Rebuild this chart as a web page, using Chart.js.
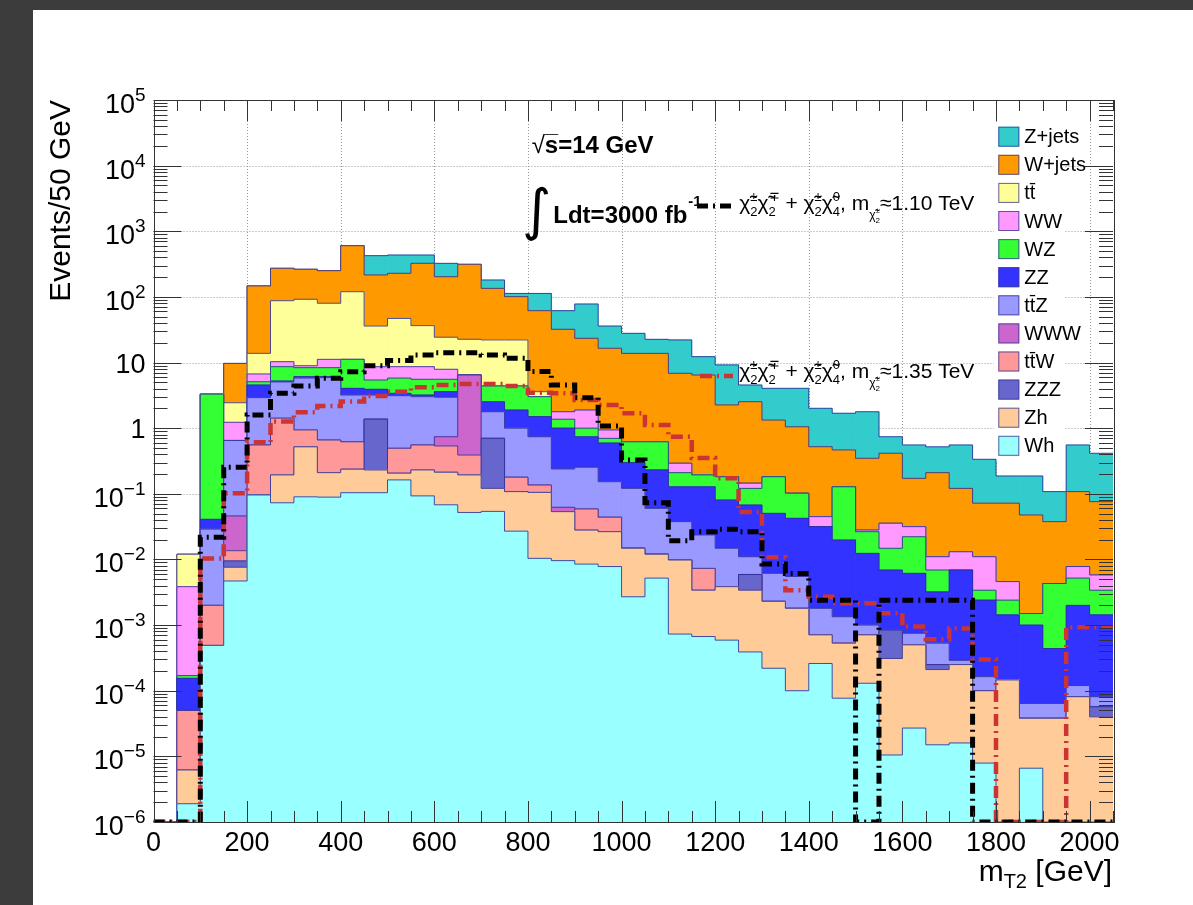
<!DOCTYPE html>
<html>
<head>
<meta charset="utf-8">
<script src="https://cdn.jsdelivr.net/npm/chart.js@4.4.0/dist/chart.umd.min.js"></script>
<style>
  html, body { margin: 0; padding: 0; background: #3c3c3c; }
  #frame { position: absolute; left: 33px; top: 10px; width: 1160px; height: 895px; background: #fff; }
  canvas { display: block; }
</style>
</head>
<body>
<div id="frame"><canvas id="mt2" width="1160" height="895"></canvas></div>
<script>
// lower edge of each 50 GeV bin
const binLow = [0, 50, 100, 150, 200, 250, 300, 350, 400, 450, 500, 550, 600, 650, 700, 750, 800, 850, 900, 950,
  1000, 1050, 1100, 1150, 1200, 1250, 1300, 1350, 1400, 1450, 1500, 1550, 1600, 1650, 1700, 1750, 1800, 1850, 1900, 1950, 2000];

// stacked heights (THStack style): each array is the top of that process's band, bottom of the stack first
const stackWh = [0, 1.9e-6, 4.9e-4, 4.7e-3, 0.096, 0.073, 0.09, 0.089, 0.104, 0.104, 0.163, 0.093, 0.068, 0.052, 0.054, 0.027, 0.0104, 0.0096, 0.0085, 0.0078,
  0.0027, 0.0052, 7.3e-4, 6.7e-4, 5.9e-4, 3.9e-4, 2.2e-4, 1.0e-4, 2.6e-4, 7.7e-5, 1.3e-4, 1.05e-5, 2.7e-5, 1.5e-5, 1.6e-5, 7.9e-6, 0, 6.6e-6, 0, 0, 0];
const stackZh = [0, 6.2e-6, 4.9e-4, 7.6e-3, 0.096, 0.194, 0.52, 0.21, 0.237, 0.231, 0.206, 0.231, 0.213, 0.194, 0.121, 0.108, 0.105, 0.0535, 0.028, 0.0265,
  0.0148, 0.012, 9.8e-3, 3.4e-3, 3.85e-3, 3.4e-3, 2.3e-3, 1.8e-3, 7.1e-4, 5.3e-4, 7.1e-4, 3.1e-4, 5.0e-4, 2.1e-4, 2.5e-4, 1.0e-4, 1.46e-4, 3.8e-5, 3.8e-5, 8.1e-5, 4.0e-5];
const stackZZZ = [0, 6.2e-6, 4.9e-4, 9.5e-3, 0.096, 0.194, 0.52, 0.21, 0.237, 1.37, 0.206, 0.231, 0.213, 0.194, 0.70, 0.108, 0.105, 0.0535, 0.028, 0.0265,
  0.0148, 0.012, 9.8e-3, 3.4e-3, 3.85e-3, 5.9e-3, 2.3e-3, 1.8e-3, 7.1e-4, 5.3e-4, 7.1e-4, 8.4e-4, 5.0e-4, 2.5e-4, 2.5e-4, 1.0e-4, 1.46e-4, 3.8e-5, 3.8e-5, 8.1e-5, 5.7e-5];
const stackTtW = [0, 5.0e-5, 2.0e-3, 0.0136, 0.555, 1.42, 0.94, 0.66, 0.62, 1.37, 0.494, 0.555, 0.536, 0.39, 0.70, 0.179, 0.136, 0.0535, 0.0588, 0.044,
  0.0148, 0.012, 9.8e-3, 7.3e-3, 3.85e-3, 5.9e-3, 2.3e-3, 1.8e-3, 7.1e-4, 5.3e-4, 7.1e-4, 8.4e-4, 5.0e-4, 2.5e-4, 2.5e-4, 1.0e-4, 1.46e-4, 3.8e-5, 3.8e-5, 8.1e-5, 5.7e-5];
const stackWWW = [0, 5.0e-5, 2.0e-3, 0.046, 0.555, 1.42, 0.94, 0.66, 0.62, 1.37, 0.494, 0.555, 0.741, 6.46, 0.70, 0.179, 0.136, 0.0624, 0.0588, 0.044,
  0.0148, 0.012, 9.8e-3, 7.3e-3, 3.85e-3, 5.9e-3, 2.3e-3, 1.8e-3, 7.1e-4, 5.3e-4, 7.1e-4, 8.4e-4, 5.0e-4, 2.5e-4, 2.5e-4, 1.0e-4, 1.46e-4, 3.8e-5, 3.8e-5, 8.1e-5, 5.7e-5];
const stackTtZ = [0, 5.0e-5, 0.029, 0.65, 2.92, 5.06, 5.8, 5.9, 3.2, 3.2, 3.13, 3.02, 2.96, 6.46, 1.78, 1.0, 0.74, 0.239, 0.254, 0.153,
  0.121, 0.060, 0.0377, 0.0236, 0.0148, 0.011, 6.15e-3, 5.5e-3, 1.8e-3, 1.34e-3, 1.0e-3, 8.4e-4, 7.5e-4, 5.3e-4, 2.9e-4, 1.64e-4, 1.46e-4, 6.4e-5, 6.4e-5, 1.2e-4, 8.1e-5];
const stackZZ = [0, 1.55e-4, 0.041, 0.65, 4.55, 5.24, 6.1, 6.1, 4.05, 3.92, 3.4, 3.2, 3.6, 6.46, 2.53, 1.89, 1.5, 1.0, 0.74, 0.595,
  0.298, 0.231, 0.128, 0.128, 0.0805, 0.0676, 0.0505, 0.0424, 0.0316, 0.0198, 0.0124, 6.9e-3, 6.15e-3, 3.2e-3, 6.9e-3, 2.4e-3, 1.43e-3, 1.0e-3, 4.4e-4, 2.0e-3, 1.43e-3];
const stackWZ = [0, 1.7e-4, 3.3, 0.65, 5.1, 8.65, 8.35, 8.35, 11.2, 5.42, 5.8, 5.56, 5.56, 6.46, 4.4, 4.4, 3.02, 1.37, 1.0, 0.70,
  0.62, 0.62, 0.21, 0.194, 0.182, 0.121, 0.182, 0.102, 0.0316, 0.128, 0.0265, 0.0148, 0.0222, 6.9e-3, 6.9e-3, 3.4e-3, 2.4e-3, 1.5e-3, 4.3e-3, 5.2e-3, 3.4e-3];
const stackWW = [0, 3.85e-3, 3.3, 1.23, 6.7, 10.3, 8.95, 11.2, 11.2, 8.65, 8.65, 8.65, 7.9, 6.46, 4.4, 4.4, 3.02, 1.78, 1.89, 0.94,
  0.62, 0.62, 0.292, 0.194, 0.182, 0.145, 0.182, 0.102, 0.0449, 0.128, 0.0281, 0.0356, 0.0316, 0.011, 0.0131, 0.011, 4.6e-3, 1.5e-3, 4.3e-3, 7.8e-3, 5.8e-3];
const stackTt = [0, 0.012, 3.3, 2.44, 13.8, 87.5, 92, 80, 120, 36, 47, 36.5, 24.3, 22.6, 22.1, 22.1, 3.6, 1.78, 1.89, 0.94,
  0.62, 0.62, 0.292, 0.194, 0.182, 0.145, 0.182, 0.102, 0.0449, 0.128, 0.0281, 0.0356, 0.0316, 0.011, 0.0131, 0.011, 4.6e-3, 1.5e-3, 4.3e-3, 7.8e-3, 5.8e-3];
const stackWjets = [0, 0.012, 3.3, 9.7, 147, 273, 264, 251, 603, 216, 229, 325, 203, 314, 135, 101, 61.7, 32.1, 23.4, 16.5,
  13.8, 13.8, 6.86, 6.46, 2.26, 2.53, 1.33, 1.05, 0.522, 0.466, 0.348, 0.415, 0.172, 0.21, 0.121, 0.072, 0.072, 0.0476, 0.0377, 0.108, 0.076];
const stackZjets = [0, 0.012, 3.3, 9.7, 147, 273, 264, 251, 603, 425, 435, 435, 325, 314, 181, 113, 113, 61.7, 78, 36,
  27.9, 22.6, 22.1, 12.3, 9.2, 4.55, 4.05, 4.05, 2.01, 1.69, 1.78, 0.741, 0.555, 0.52, 0.555, 0.336, 0.187, 0.187, 0.108, 0.555, 0.415];

const processes = ['Wh', 'Zh', 'ZZZ', 'tt\u0304W', 'WWW', 'tt\u0304Z', 'ZZ', 'WZ', 'WW', 'tt\u0304', 'W+jets', 'Z+jets'];
const fills = ['#99ffff', '#ffcc99', '#6666cc', '#ff9999', '#cc66cc', '#9999ff', '#3333ff', '#33ff33', '#ff99ff', '#ffff99', '#ff9900', '#33cccc'];
const stackTops = [stackWh, stackZh, stackZZZ, stackTtW, stackWWW, stackTtZ, stackZZ, stackWZ, stackWW, stackTt, stackWjets, stackZjets];

// signal points, m(chi2+-) = 1.10 TeV (black) and 1.35 TeV (red)
const signal110 = [0, 0, 0.0218, 0.254, 1.59, 3.4, 4.4, 5.75, 7.26, 8.9, 10.7, 13.0, 14.1, 14.1, 13.0, 11.6, 7.3, 4.55, 2.92, 1.08,
  0.328, 0.073, 0.0193, 0.0265, 0.0288, 0.0265, 8.5e-3, 6.1e-3, 2.4e-3, 2.4e-3, 0, 2.4e-3, 2.4e-3, 2.4e-3, 2.4e-3, 0, 0, 0, 0, 0, 0];
const signal135 = [0, 0, 0.0103, 0.102, 0.61, 1.26, 1.75, 2.18, 2.54, 3.09, 3.6, 4.2, 4.55, 4.7, 4.7, 4.4, 3.47, 3.4, 2.69, 2.25,
  1.69, 1.12, 0.74, 0.35, 0.173, 0.053, 0.0108, 3.4e-3, 2.7e-3, 2.15e-3, 2.15e-3, 1.52e-3, 9.5e-4, 6.1e-4, 8.9e-4, 3.0e-4, 0, 0, 0, 9.3e-4, 9.3e-4];

const xTickValues = [0, 200, 400, 600, 800, 1000, 1200, 1400, 1600, 1800, 2000];
const yTickExponents = [-6, -5, -4, -3, -2, -1, 0, 1, 2, 3, 4, 5];
const binWidth = 50;
const yMin = 1e-6, yMax = 1e5;

const FONT = '"Liberation Sans", Arial, sans-serif';
const CHI = '\u03c7\u0303';
const BLACK_DASH = [11, 5, 2, 5];
const RED_DASH = [12, 5, 2, 5];

// empty bins sit on the axis floor, as ROOT draws them on a log axis
const floor = v => (v > 0 ? v : yMin);

function stepPoints(vals) {
  const pts = vals.map((v, i) => ({ x: binLow[i], y: floor(v) }));
  pts.push({ x: binLow[binLow.length - 1] + binWidth, y: floor(vals[vals.length - 1]) });
  return pts;
}

function richText(ctx, x, y, parts) {
  parts.forEach(p => {
    if (p.stack) {
      ctx.font = p.size + 'px ' + FONT;
      ctx.fillText(p.stack[0], x, y + p.dy[0]);
      ctx.fillText(p.stack[1], x, y + p.dy[1]);
      x += Math.max(ctx.measureText(p.stack[0]).width, ctx.measureText(p.stack[1]).width);
    } else {
      ctx.font = (p.bold ? 'bold ' : '') + p.size + 'px ' + FONT;
      ctx.fillText(p.t, x, y + (p.dy || 0));
      x += ctx.measureText(p.t).width;
    }
  });
  return x;
}

function signalLabel(mass) {
  return [
    { t: CHI, size: 21 }, { stack: ['2', '\u00b1'], size: 13, dy: [6, -9] },
    { t: CHI, size: 21 }, { stack: ['2', '\u2213'], size: 13, dy: [6, -9] },
    { t: ' + ', size: 21 },
    { t: CHI, size: 21 }, { stack: ['2', '\u00b1'], size: 13, dy: [6, -9] },
    { t: CHI, size: 21 }, { stack: ['4', '0'], size: 13, dy: [6, -9] },
    { t: ', m', size: 21 },
    { t: CHI, size: 12, dy: 9 }, { stack: ['2', '\u00b1'], size: 8, dy: [13, 3] },
    { t: '\u2248' + mass + ' TeV', size: 21 }
  ];
}

function sampleLine(ctx, x1, x2, y, colour, width, dash) {
  ctx.save();
  ctx.strokeStyle = colour; ctx.lineWidth = width; ctx.setLineDash(dash);
  ctx.beginPath(); ctx.moveTo(x1, y); ctx.lineTo(x2, y); ctx.stroke();
  ctx.restore();
}

const rootStyle = {
  id: 'rootStyle',
  beforeDatasetsDraw(chart) {
    const { ctx, chartArea: a, scales: { x2, y } } = chart;
    ctx.save();
    ctx.strokeStyle = '#999'; ctx.lineWidth = 1; ctx.setLineDash([1, 2]);
    ctx.beginPath();
    xTickValues.forEach(v => {
      if (v <= 0) return;
      const px = Math.round(x2.getPixelForValue(v)) + 0.5;
      ctx.moveTo(px, a.top); ctx.lineTo(px, a.bottom);
    });
    yTickExponents.forEach(e => {
      if (e <= -6 || e >= 5) return;
      const py = Math.round(y.getPixelForValue(Math.pow(10, e))) + 0.5;
      ctx.moveTo(a.left, py); ctx.lineTo(a.right, py);
    });
    ctx.stroke();
    // legend pad hides the grid behind it
    ctx.fillStyle = '#fff';
    ctx.fillRect(961, 113, 70, 340);
    ctx.restore();
  },
  afterDatasetDraw(chart, args) {
    const meta = args.meta;
    if (meta.type !== 'bar') return;
    const { ctx, chartArea: a } = chart;
    ctx.save();
    ctx.beginPath(); ctx.rect(a.left, a.top, a.right - a.left, a.bottom - a.top); ctx.clip();
    ctx.strokeStyle = 'rgba(45, 45, 150, 0.85)'; ctx.lineWidth = 1;
    ctx.beginPath();
    meta.data.forEach((bar, i) => {
      const half = bar.width / 2;
      const by = isFinite(bar.y) ? bar.y : a.bottom;
      if (i === 0) ctx.moveTo(bar.x - half, by); else ctx.lineTo(bar.x - half, by);
      ctx.lineTo(bar.x + half, by);
    });
    ctx.stroke();
    ctx.restore();
  },
  afterDraw(chart) {
    const { ctx, chartArea: a, scales: { x2, y } } = chart;
    ctx.save();

    // frame and inward ticks
    ctx.strokeStyle = '#333'; ctx.lineWidth = 1;
    ctx.strokeRect(Math.round(a.left) + 0.5, Math.round(a.top) + 0.5, Math.round(a.right - a.left), Math.round(a.bottom - a.top));
    ctx.beginPath();
    for (let v = 0; v <= 2050; v += 50) {
      const px = Math.round(x2.getPixelForValue(v)) + 0.5;
      const len = v % 200 === 0 ? 21 : 11;
      ctx.moveTo(px, a.bottom); ctx.lineTo(px, a.bottom - len);
      ctx.moveTo(px, a.top); ctx.lineTo(px, a.top + len);
    }
    yTickExponents.forEach(e => {
      for (let m = 1; m <= 9; m++) {
        const v = m * Math.pow(10, e);
        if (v > yMax * 1.0001) break;
        const py = Math.round(y.getPixelForValue(v)) + 0.5;
        const len = m === 1 ? 28 : 14;
        ctx.moveTo(a.left, py); ctx.lineTo(a.left + len, py);
        ctx.moveTo(a.right, py); ctx.lineTo(a.right - len, py);
      }
    });
    ctx.stroke();

    ctx.fillStyle = '#000';
    // x tick labels
    ctx.font = '27px ' + FONT; ctx.textAlign = 'center'; ctx.textBaseline = 'alphabetic';
    xTickValues.forEach(v => ctx.fillText(String(v), x2.getPixelForValue(v), a.bottom + 29));

    // y tick labels with exponents
    const labelRight = a.left - 8;
    yTickExponents.forEach(e => {
      const py = y.getPixelForValue(Math.pow(10, e));
      ctx.textAlign = 'right';
      if (e === 0 || e === 1) {
        ctx.font = '27px ' + FONT;
        ctx.fillText(e === 0 ? '1' : '10', labelRight, py + 10);
      } else {
        const sup = e < 0 ? '\u2212' + Math.abs(e) : String(e);
        ctx.font = '19px ' + FONT;
        const sw = ctx.measureText(sup).width;
        ctx.fillText(sup, labelRight, py + 1);
        ctx.font = '27px ' + FONT;
        ctx.fillText('10', labelRight - sw, py + 13);
      }
    });

    // axis titles
    ctx.textAlign = 'left';
    const tail = ' [GeV]';
    ctx.font = '20px ' + FONT; const wT2 = ctx.measureText('T2').width;
    ctx.font = '30px ' + FONT; const wM = ctx.measureText('m').width, wTail = ctx.measureText(tail).width;
    const tx = a.right - 1 - (wM + wT2 + wTail);
    richText(ctx, tx, 871, [{ t: 'm', size: 30 }, { t: 'T2', size: 20, dy: 7 }, { t: tail, size: 30 }]);

    ctx.save();
    ctx.translate(37, a.top);
    ctx.rotate(-Math.PI / 2);
    ctx.textAlign = 'right';
    ctx.font = '30px ' + FONT;
    ctx.fillText('Events/50 GeV', 0, 0);
    ctx.restore();

    // sqrt(s) and luminosity
    ctx.textAlign = 'left';
    ctx.font = '24px ' + FONT;
    ctx.fillText('\u221a', 498.7, 143.3);
    const sx = 498.7 + ctx.measureText('\u221a').width;
    ctx.font = 'bold 24px ' + FONT;
    ctx.fillText('s=14 GeV', sx, 143.3);
    const sW = ctx.measureText('s').width;
    ctx.beginPath(); ctx.moveTo(sx - 1, 124.5); ctx.lineTo(sx + sW, 124.5); ctx.stroke();

    ctx.save();
    ctx.font = '56px "DejaVu Sans"'; ctx.textAlign = 'center'; ctx.textBaseline = 'middle';
    ctx.fillText('\u222b', 503.5, 204);
    ctx.restore();
    const lx = richText(ctx, 520.3, 213.3, [{ t: 'Ldt=3000 fb', size: 24, bold: true }]);
    richText(ctx, lx + 1, 196, [{ t: '-1', size: 15, bold: true }]);

    // signal legend entries
    sampleLine(ctx, 664, 700, 196, '#000', 5, BLACK_DASH);
    richText(ctx, 706.3, 199.5, signalLabel('1.10'));
    sampleLine(ctx, 667, 700, 366, '#cc3333', 4.5, RED_DASH);
    richText(ctx, 706.3, 368, signalLabel('1.35'));

    // background legend, top of the stack first
    const order = processes.map((p, i) => i).reverse();
    ctx.textBaseline = 'middle';
    order.forEach((k, row) => {
      const by = 116.7 + row * 28.1;
      ctx.fillStyle = fills[k];
      ctx.fillRect(965.3, by, 21, 20);
      ctx.strokeStyle = 'rgba(60, 60, 150, 0.8)';
      ctx.strokeRect(965.8, by + 0.5, 20, 19);
      ctx.fillStyle = '#000';
      ctx.font = '20px ' + FONT;
      ctx.fillText(processes[k], 991.3, by + 11);
    });
    ctx.restore();
  }
};

const barSets = processes.map((name, i) => ({
  type: 'bar',
  label: name,
  data: stackTops[i].map(floor),
  backgroundColor: fills[i],
  borderWidth: 0,
  grouped: false,
  barPercentage: 1,
  categoryPercentage: 1,
  xAxisID: 'x',
  yAxisID: 'y'
}));

const lineSets = [
  { type: 'line', label: 'm = 1.35 TeV', data: stepPoints(signal135), xAxisID: 'x2', yAxisID: 'y',
    borderColor: '#cc3333', borderWidth: 4.5, borderDash: RED_DASH, stepped: 'before', pointRadius: 0, fill: false, order: -1 },
  { type: 'line', label: 'm = 1.10 TeV', data: stepPoints(signal110), xAxisID: 'x2', yAxisID: 'y',
    borderColor: '#000000', borderWidth: 5, borderDash: BLACK_DASH, stepped: 'before', pointRadius: 0, fill: false, order: -2 }
];

new Chart(document.getElementById('mt2'), {
  type: 'bar',
  data: { labels: binLow.map(String), datasets: barSets.concat(lineSets) },
  options: {
    responsive: false,
    animation: false,
    devicePixelRatio: 1,
    events: [],
    layout: { padding: { left: 120.5, top: 90, right: 80, bottom: 83 } },
    plugins: { legend: { display: false }, tooltip: { enabled: false } },
    scales: {
      x: { type: 'category', offset: true, display: false },
      x2: { type: 'linear', min: 0, max: 2050, offset: false, display: false },
      y: { type: 'logarithmic', min: yMin, max: yMax, display: false }
    }
  },
  plugins: [rootStyle]
});
</script>
</body>
</html>
